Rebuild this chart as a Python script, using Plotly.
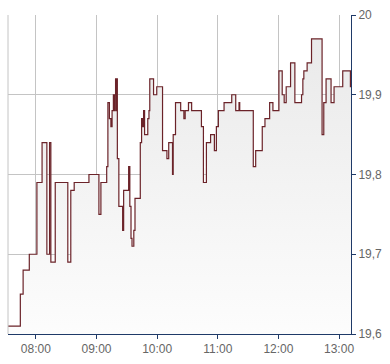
import plotly.graph_objects as go

# Intraday quote (time of change, new price)
times = [
    "07:32:24", "07:44:36", "07:47:22", "07:53:29", "08:01:00", "08:06:07", "08:10:52",
    "08:13:31", "08:14:48", "08:19:09", "08:31:35", "08:34:32", "08:37:54", "08:52:30",
    "09:02:22", "09:04:20", "09:10:04", "09:11:15", "09:12:44", "09:14:13", "09:15:24",
    "09:16:41", "09:17:22", "09:18:10", "09:18:51", "09:19:26", "09:19:56", "09:20:37",
    "09:22:06", "09:25:51", "09:26:50", "09:31:47", "09:32:58", "09:34:08", "09:35:08",
    "09:36:54", "09:38:05", "09:43:19", "09:44:36", "09:45:35", "09:46:35", "09:47:34",
    "09:50:43", "09:51:54", "09:52:42", "09:56:27", "09:59:36", "10:05:20", "10:09:40",
    "10:11:27", "10:15:12", "10:15:53", "10:18:10", "10:23:17", "10:26:27", "10:27:44",
    "10:30:59", "10:34:08", "10:43:49", "10:45:47", "10:48:45", "10:52:53", "10:56:38",
    "10:58:37", "11:00:35", "11:06:13", "11:13:49", "11:17:46", "11:21:01", "11:21:43",
    "11:35:08", "11:37:30", "11:44:01", "11:46:41", "11:51:19", "11:54:34", "12:00:29",
    "12:03:45", "12:05:43", "12:07:42", "12:12:02", "12:16:17", "12:22:53", "12:24:11",
    "12:25:10", "12:28:25", "12:32:46", "12:43:13", "12:44:54", "12:47:10", "12:52:06",
    "12:55:04", "13:03:39", "13:11:15", "13:11:50",
]
prices = [
    19.61, 19.65, 19.68, 19.70, 19.79, 19.84, 19.70,
    19.84, 19.69, 19.79, 19.69, 19.78, 19.79, 19.80,
    19.75, 19.79, 19.81, 19.89, 19.87, 19.86, 19.88,
    19.90, 19.88, 19.90, 19.92, 19.88, 19.92, 19.82,
    19.76, 19.73, 19.78, 19.81, 19.76, 19.72, 19.71,
    19.73, 19.77, 19.84, 19.87, 19.86, 19.88, 19.85,
    19.87, 19.88, 19.92, 19.90, 19.91, 19.83, 19.82,
    19.84, 19.80, 19.85, 19.89, 19.88, 19.87, 19.88,
    19.89, 19.88, 19.86, 19.79, 19.84, 19.85, 19.83,
    19.86, 19.88, 19.89, 19.90, 19.88, 19.89, 19.88,
    19.81, 19.83, 19.86, 19.87, 19.89, 19.88, 19.93,
    19.90, 19.89, 19.91, 19.94, 19.89, 19.90, 19.92,
    19.93, 19.94, 19.97, 19.85, 19.89, 19.92, 19.89,
    19.91, 19.93, 19.91, 19.91,
]
day = "2024-01-01 "
y_range = [19.6, 20.0]
x_tick_times = ["08:00", "09:00", "10:00", "11:00", "12:00", "13:00"]

x = [day + t for t in times]

LINE = "#6b2329"
AXIS = "#1f3a68"
GRID = "#c4c4c4"
TEXT = "#666666"

fig = go.Figure()
fig.add_trace(go.Scatter(
    x=x, y=prices, mode="lines",
    line=dict(color=LINE, width=1.2, shape="hv"),
    fill="tozeroy",
    fillgradient=dict(type="vertical", start=y_range[0], stop=y_range[1],
                      colorscale=[[0, "rgb(253,253,253)"], [1, "rgb(232,232,232)"]]),
    hoverinfo="skip", showlegend=False,
))

fig.update_layout(
    width=390, height=364,
    margin=dict(l=8, r=38, t=11, b=26),
    paper_bgcolor="white", plot_bgcolor="white",
    separators=", ",
    font=dict(family="Liberation Sans, Arial, sans-serif", size=12, color=TEXT),
    xaxis=dict(
        range=[x[0], x[-1]], type="date",
        tickvals=[day + t for t in x_tick_times], ticktext=x_tick_times,
        showgrid=True, gridcolor=GRID, gridwidth=1,
        showline=True, linecolor=AXIS, linewidth=1,
        ticks="outside", ticklen=4, tickcolor=AXIS, tickwidth=1,
        zeroline=False, fixedrange=True,
        tickfont=dict(size=12, color=TEXT),
    ),
    yaxis=dict(
        range=y_range, side="right", dtick=0.1, tick0=19.6, tickformat=".3~g",
        showgrid=True, gridcolor=GRID, gridwidth=1,
        showline=True, linecolor=AXIS, linewidth=1,
        ticks="outside", ticklen=4, tickcolor=AXIS, tickwidth=1,
        ticklabelstandoff=0,
        zeroline=False, fixedrange=True,
        tickfont=dict(size=12, color=TEXT),
    ),
    shapes=[dict(type="line", xref="paper", yref="paper", x0=0, x1=0, y0=0, y1=1,
                 line=dict(color=GRID, width=1))],
)

fig.write_html("out.html", config={"displayModeBar": False})
